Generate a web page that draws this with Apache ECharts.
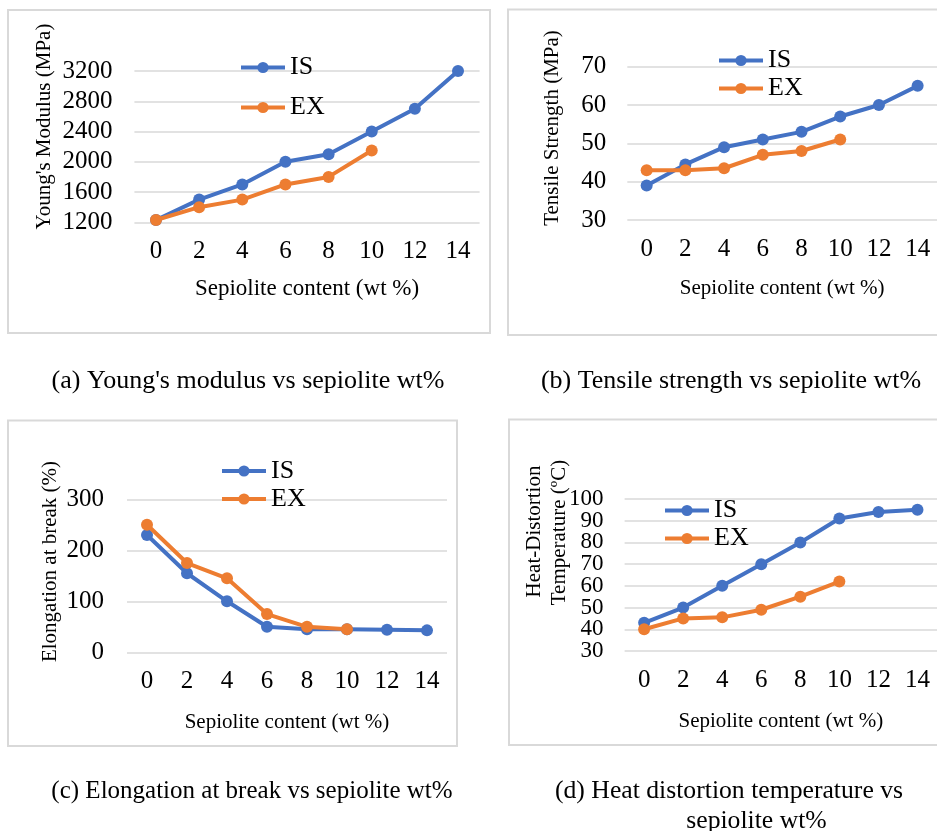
<!DOCTYPE html>
<html>
<head>
<meta charset="utf-8">
<script src="https://cdn.jsdelivr.net/npm/echarts@6/dist/echarts.min.js"></script>
<style>
  html, body { margin: 0; padding: 0; background: #fff; }
  #chart { width: 937px; height: 831px; }
</style>
</head>
<body>
<div id="chart"></div>
<script>
// ---------- data ----------
const categories = ['0', '2', '4', '6', '8', '10', '12', '14'];
const seriesNames = ['IS', 'EX'];

const modulusIS = [1230, 1500, 1700, 2000, 2100, 2400, 2700, 3200];
const modulusEX = [1230, 1400, 1500, 1700, 1800, 2150];

const tensileIS = [39, 44.5, 49, 51, 53, 57, 60, 65];
const tensileEX = [43, 43, 43.5, 47, 48, 51];

const elongIS = [230, 155, 100, 50, 45, 45, 44, 43];
const elongEX = [250, 175, 145, 75, 50, 45];

const hdtIS = [43, 50, 60, 70, 80, 91, 94, 95];
const hdtEX = [40, 45, 45.5, 49, 55, 62];

const xTitle = 'Sepiolite content (wt %)';
const yTitles = ["Young's Modulus (MPa)", 'Tensile Strength (MPa)', 'Elongation at break (%)'];
const hdtTitleLines = ['Heat-Distortion', 'Temperature (ºC)'];
const captions = [
  "(a) Young's modulus vs sepiolite wt%",
  '(b) Tensile strength vs sepiolite wt%',
  '(c) Elongation at break vs sepiolite wt%',
  '(d) Heat distortion temperature vs',
  'sepiolite wt%'
];

// ---------- layout ----------
const FONT = '"Liberation Serif", "Times New Roman", serif';
const BLUE = '#4472C4';
const ORANGE = '#ED7D31';
const GRID_GRAY = '#d9d9d9';

const panels = [
  { grid: { left: 134.4, top: 71, width: 345.2, height: 151.3 }, y: { min: 1200, max: 3200, interval: 400 }, labelMargin: 22, xNameSize: 23, xNameGap: 55, data: [modulusIS, modulusEX],
    legend: { left: 239, top: 54.5, itemGap: 14 } },
  { grid: { left: 627.3, top: 66.7, width: 315.8, height: 153.3 }, y: { min: 30, max: 70, interval: 10 }, labelMargin: 21, xNameSize: 21, xNameGap: 58, data: [tensileIS, tensileEX],
    legend: { left: 717, top: 47.5, itemGap: 2 } },
  { grid: { left: 127, top: 499.3, width: 320, height: 153 }, y: { min: 0, max: 300, interval: 100 }, labelMargin: 23, xNameSize: 21, xNameGap: 60, data: [elongIS, elongEX],
    legend: { left: 220, top: 458, itemGap: 2 } },
  { grid: { left: 624.6, top: 499, width: 316, height: 152 }, y: { min: 30, max: 100, interval: 10 }, labelMargin: 21, xNameSize: 21, xNameGap: 60, data: [hdtIS, hdtEX],
    legend: { left: 663, top: 497.5, itemGap: 2 } }
];

const grids = [], xAxes = [], yAxes = [], series = [], legends = [];
panels.forEach((p, i) => {
  grids.push(Object.assign({ containLabel: false }, p.grid));
  xAxes.push({
    type: 'category', gridIndex: i, data: categories, boundaryGap: true,
    axisLine: { show: false }, axisTick: { show: false },
    axisLabel: { color: '#000', fontFamily: FONT, fontSize: 25, margin: 17 },
    name: xTitle, nameLocation: 'middle', nameGap: p.xNameGap,
    nameTextStyle: { color: '#000', fontFamily: FONT, fontSize: p.xNameSize }
  });
  const dense = i === 3;
  yAxes.push({
    type: 'value', gridIndex: i, min: p.y.min, max: p.y.max, interval: p.y.interval,
    axisLine: { show: false }, axisTick: { show: false },
    axisLabel: { color: '#000', fontFamily: FONT, fontSize: dense ? 23 : 25, margin: p.labelMargin,
      showMinLabel: true, showMaxLabel: true, hideOverlap: false,
      formatter: function (v) {
        if (dense && ((v - p.y.min) / p.y.interval) % 2 === 1) return '';
        return String(v);
      } },
    splitLine: { show: true, lineStyle: { color: GRID_GRAY, width: 1.5 } }
  });
});

// second label axis for the dense panel (d): shows the alternate tick labels
const pd = panels[3];
yAxes.push({
  type: 'value', gridIndex: 3, position: 'left', offset: 0,
  min: pd.y.min, max: pd.y.max, interval: pd.y.interval,
  axisLine: { show: false }, axisTick: { show: false }, splitLine: { show: false },
  axisLabel: { color: '#000', fontFamily: FONT, fontSize: 23, margin: pd.labelMargin,
    showMinLabel: true, showMaxLabel: true, hideOverlap: false,
    formatter: function (v) {
      return (((v - pd.y.min) / pd.y.interval) % 2 === 1) ? String(v) : '';
    } }
});

panels.forEach((p, i) => {
  [BLUE, ORANGE].forEach((c, k) => {
    series.push({
      type: 'line', name: seriesNames[k], xAxisIndex: i, yAxisIndex: i,
      data: p.data[k], symbol: 'circle', symbolSize: 12, showSymbol: true,
      lineStyle: { color: c, width: 4 }, itemStyle: { color: c },
      animation: false, z: 2 + k
    });
  });
  legends.push({
    orient: 'vertical', left: p.legend.left, top: p.legend.top, itemGap: p.legend.itemGap,
    padding: 0, itemWidth: 44, itemHeight: 14, data: seriesNames, selectedMode: false,
    lineStyle: { width: 4 },
    textStyle: { color: '#000', fontFamily: FONT, fontSize: 26 }
  });
});

function txt(text, x, y, size, rot) {
  return {
    type: 'text', x: x, y: y, rotation: rot || 0, silent: true,
    style: { text: text, x: 0, y: 0, fill: '#000', font: size + 'px ' + FONT,
      textAlign: 'center', textVerticalAlign: 'middle', align: 'center', verticalAlign: 'middle' }
  };
}
function frame(x, y, w, h) {
  return { type: 'rect', shape: { x: x, y: y, width: w, height: h }, silent: true,
    style: { fill: 'none', stroke: GRID_GRAY, lineWidth: 2 } };
}

const graphics = [
  frame(8, 10, 482, 323),
  frame(508, 9.5, 440, 325.5),
  frame(8, 420.5, 449, 325.5),
  frame(509, 419.5, 440, 325.5),
  txt(yTitles[0], 44, 126.5, 21, Math.PI / 2),
  txt(yTitles[1], 552, 128, 21, Math.PI / 2),
  txt(yTitles[2], 50, 561.5, 21, Math.PI / 2),
  txt(hdtTitleLines[0], 534, 531.5, 21, Math.PI / 2),
  txt(hdtTitleLines[1], 559, 532.5, 21, Math.PI / 2),
  txt(captions[0], 248, 381, 26),
  txt(captions[1], 731, 381, 26),
  txt(captions[2], 252, 791, 25),
  txt(captions[3], 729, 791, 25.7),
  txt(captions[4], 756.5, 821, 25.7)
];

const chart = echarts.init(document.getElementById('chart'), null, { renderer: 'canvas' });
chart.setOption({
  animation: false,
  backgroundColor: '#fff',
  grid: grids, xAxis: xAxes, yAxis: yAxes, series: series, legend: legends,
  graphic: graphics
});
</script>
</body>
</html>
